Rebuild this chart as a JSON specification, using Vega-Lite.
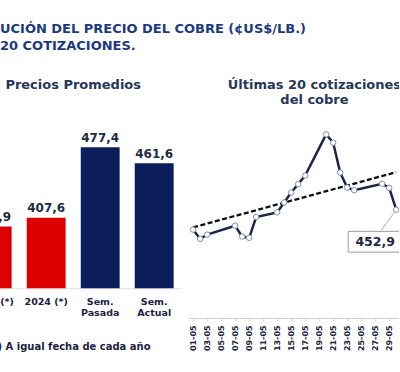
{
  "$schema": "https://vega.github.io/schema/vega-lite/v6.json",
  "background": "white",
  "padding": {"left": -34.8, "right": -8, "top": 22, "bottom": 0},
  "bounds": "flush",
  "spacing": 7,
  "config": {
    "font": "DejaVu Sans",
    "view": {"stroke": null},
    "locale": {"number": {"decimal": ",", "thousands": ".", "grouping": [3], "currency": ["", ""]}}
  },
  "title": {
    "text": ["UCIÓN DEL PRECIO DEL COBRE (¢US$/LB.)", "20 COTIZACIONES."],
    "anchor": "start",
    "dx": 34.8,
    "fontSize": 13,
    "fontWeight": "bold",
    "color": "#1c3a80",
    "lineHeight": 17.5,
    "offset": 26
  },
  "datasets": {
    "promedios": [
      {"periodo": "2023 (*)", "precio": 398.9, "tipo": "Anual"},
      {"periodo": "2024 (*)", "precio": 407.6, "tipo": "Anual"},
      {"periodo": "Sem. Pasada", "precio": 477.4, "tipo": "Semanal"},
      {"periodo": "Sem. Actual", "precio": 461.6, "tipo": "Semanal"}
    ],
    "cotizaciones": [
      {"fecha": "2024-05-01T00:00:00", "precio": 441.7},
      {"fecha": "2024-05-02T00:00:00", "precio": 436.5},
      {"fecha": "2024-05-03T00:00:00", "precio": 438.9},
      {"fecha": "2024-05-07T00:00:00", "precio": 443.9},
      {"fecha": "2024-05-08T00:00:00", "precio": 437.8},
      {"fecha": "2024-05-09T00:00:00", "precio": 437.1},
      {"fecha": "2024-05-10T00:00:00", "precio": 448.8},
      {"fecha": "2024-05-13T00:00:00", "precio": 451.4},
      {"fecha": "2024-05-14T00:00:00", "precio": 457.0},
      {"fecha": "2024-05-15T00:00:00", "precio": 462.6},
      {"fecha": "2024-05-16T00:00:00", "precio": 467.3},
      {"fecha": "2024-05-17T00:00:00", "precio": 472.1},
      {"fecha": "2024-05-20T00:00:00", "precio": 495.3},
      {"fecha": "2024-05-21T00:00:00", "precio": 490.6},
      {"fecha": "2024-05-22T00:00:00", "precio": 473.8},
      {"fecha": "2024-05-23T00:00:00", "precio": 465.4},
      {"fecha": "2024-05-24T00:00:00", "precio": 463.9},
      {"fecha": "2024-05-28T00:00:00", "precio": 467.5},
      {"fecha": "2024-05-29T00:00:00", "precio": 465.2},
      {"fecha": "2024-05-30T00:00:00", "precio": 452.9}
    ],
    "tendencia": [
      {"fecha": "2024-05-01T00:00:00", "precio": 443.0},
      {"fecha": "2024-05-30T00:00:00", "precio": 474.0}
    ],
    "ultimo": [
      {"fecha": "2024-05-30T00:00:00", "precio": 452.9}
    ]
  },
  "hconcat": [
    {
      "width": 216,
      "height": 162.3,
      "title": {"text": "Precios Promedios", "fontSize": 13, "fontWeight": "bold", "color": "#26365a", "offset": 34, "anchor": "middle"},
      "data": {"name": "promedios"},
      "encoding": {
        "x": {
          "field": "periodo", "type": "nominal", "sort": null,
          "scale": {"paddingInner": 0.28, "paddingOuter": 0.14},
          "axis": {
            "title": "(*) A igual fecha de cada año",
            "labelAngle": 0,
            "labelFontSize": 9.5,
            "labelFontWeight": "bold",
            "labelColor": "#1a2340",
            "labelPadding": 8,
            "labelLineHeight": 11,
            "labelExpr": "indexof(datum.label, 'Sem.') == 0 ? split(datum.label, ' ') : datum.label",
            "ticks": false,
            "domainColor": "#dddddd",
            "titleAnchor": "start",
            "titleAlign": "left",
            "titleX": 22,
            "titleFontSize": 10,
            "titleFontWeight": "bold",
            "titleColor": "#1a2340",
            "titlePadding": 25
          }
        },
        "y": {
          "field": "precio", "type": "quantitative",
          "scale": {"domain": [337.8, 498.5], "zero": false, "nice": false},
          "axis": null
        }
      },
      "layer": [
        {
          "mark": {"type": "bar", "clip": true},
          "encoding": {
            "color": {"field": "tipo", "type": "nominal", "scale": {"domain": ["Anual", "Semanal"], "range": ["#dc0000", "#0b1e5b"]}, "legend": null}
          }
        },
        {
          "mark": {"type": "text", "baseline": "alphabetic", "dy": -5.5, "fontSize": 12, "fontWeight": "bold", "color": "#1f2a44"},
          "encoding": {"text": {"field": "precio", "type": "quantitative", "format": ".1f"}}
        }
      ]
    },
    {
      "width": 218.5,
      "height": 192,
      "title": {"text": ["Últimas 20 cotizaciones", "del cobre"], "fontSize": 13, "fontWeight": "bold", "color": "#26365a", "offset": 19, "lineHeight": 15, "anchor": "middle", "dx": 17},
      "encoding": {
        "x": {
          "field": "fecha", "type": "temporal",
          "scale": {"domain": ["2024-04-30T07:00:00", "2024-05-31T12:00:00"]},
          "axis": {
            "title": null,
            "format": "%d-%m",
            "tickCount": {"interval": "day", "step": 2},
            "labelAngle": -90,
            "labelFontSize": 8,
            "labelFontWeight": "bold",
            "labelColor": "#1a2340",
            "labelPadding": 4,
            "labelOverlap": false,
            "labelFlush": false,
            "labelBound": false,
            "grid": false,
            "domainColor": "#d0d0d0",
            "tickColor": "#d0d0d0",
            "tickSize": 3
          }
        },
        "y": {
          "field": "precio", "type": "quantitative",
          "scale": {"domain": [392, 500], "zero": false, "nice": false},
          "axis": null
        }
      },
      "layer": [
        {
          "data": {"name": "cotizaciones"},
          "mark": {"type": "line", "color": "#1b2745", "strokeWidth": 2.5}
        },
        {
          "data": {"name": "tendencia"},
          "mark": {"type": "line", "color": "#111111", "strokeWidth": 2.3, "strokeDash": [5, 2.5]}
        },
        {
          "data": {"name": "ultimo"},
          "mark": {"type": "rule", "color": "#999999", "strokeWidth": 0.8, "x2Offset": -15, "y2Offset": 21},
          "encoding": {"x2": {"field": "fecha"}, "y2": {"field": "precio"}}
        },
        {
          "data": {"name": "cotizaciones"},
          "mark": {"type": "point", "filled": true, "fill": "white", "stroke": "#7f8fb0", "strokeWidth": 1, "size": 30, "opacity": 1}
        },
        {
          "data": {"name": "ultimo"},
          "mark": {"type": "point", "shape": "M-1,-0.4H1V0.4H-1Z", "size": 2704, "filled": true, "fill": "white", "stroke": "#9a9a9a", "strokeWidth": 1, "opacity": 1, "xOffset": -22, "yOffset": 32}
        },
        {
          "data": {"name": "ultimo"},
          "mark": {"type": "text", "dx": -21, "dy": 32, "baseline": "middle", "fontSize": 12.5, "fontWeight": "bold", "color": "#1b2745"},
          "encoding": {"text": {"field": "precio", "type": "quantitative", "format": ".1f"}}
        }
      ]
    }
  ]
}
